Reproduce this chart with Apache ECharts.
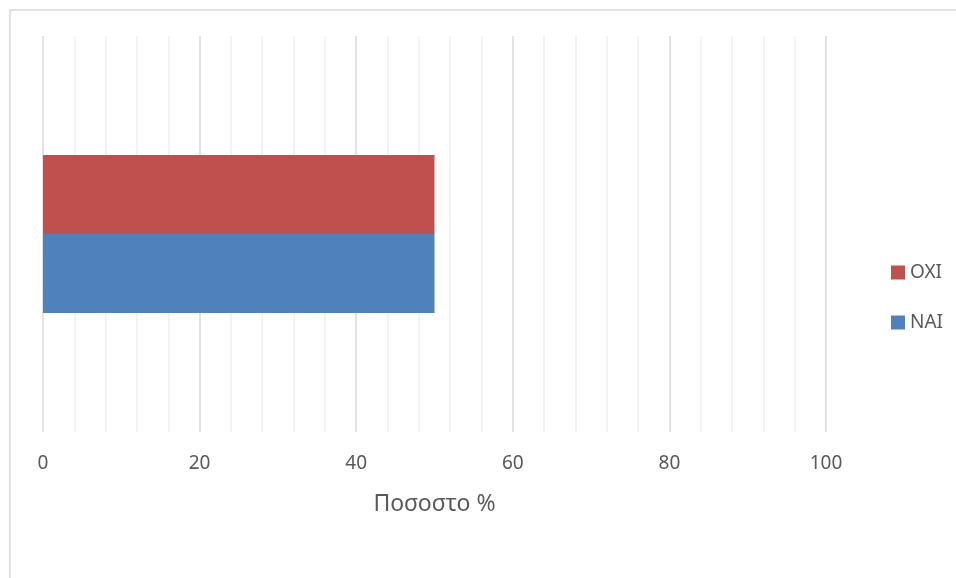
<!DOCTYPE html>
<html>
<head>
<meta charset="utf-8">
<script src="https://cdn.jsdelivr.net/npm/echarts@6/dist/echarts.min.js"></script>
<style>
  html, body { margin: 0; padding: 0; background: #fff; }
  #chart { width: 956px; height: 578px; }
</style>
</head>
<body>
<div id="chart"></div>
<script>
// Single-category horizontal bar chart: share of answers (percent)
const categories = [''];
const seriesNames = ['OXI', 'NAI'];
const oxiValues = [50];
const naiValues = [50];
const legendOrder = ['OXI', 'NAI'];
const axisName = 'Ποσοστο %';
const xMin = 0, xMax = 100, xStep = 20;

const textColor = '#595959';
const font = 'Noto Sans';

const chart = echarts.init(document.getElementById('chart'), null, { renderer: 'canvas' });

chart.setOption({
  animation: false,
  backgroundColor: '#ffffff',
  textStyle: { fontFamily: font },
  graphic: [{
    type: 'rect',
    left: 7.5, top: 7.5,
    shape: { width: 1000, height: 1000 },
    style: { fill: 'none', stroke: '#d9d9d9', lineWidth: 1.5 },
    silent: true, z: -1
  }],
  grid: { left: 43, right: 130, top: 36, bottom: 146, containLabel: false },
  legend: {
    data: legendOrder,
    orient: 'vertical',
    left: 886, top: 258,
    itemWidth: 14, itemHeight: 14, itemGap: 31,
    icon: 'rect',
    textStyle: { color: textColor, fontSize: 19, fontFamily: font },
    itemStyle: { borderWidth: 0 }
  },
  xAxis: {
    type: 'value',
    min: xMin, max: xMax, interval: xStep,
    name: axisName,
    nameLocation: 'middle',
    nameGap: 61,
    nameTextStyle: { color: textColor, fontSize: 23, fontFamily: font },
    axisLine: { show: false },
    axisTick: { show: false },
    axisLabel: { color: textColor, fontSize: 19, fontFamily: font, margin: 22 },
    splitLine: { show: true, lineStyle: { color: '#d9d9d9', width: 1.5 } },
    minorTick: { show: false, splitNumber: 5 },
    minorSplitLine: { show: true, lineStyle: { color: '#f0f0f0', width: 1.5 } }
  },
  yAxis: {
    type: 'category',
    data: categories,
    axisLine: { show: false },
    axisTick: { show: false },
    axisLabel: { show: false },
    splitLine: { show: false }
  },
  series: [
    {
      name: seriesNames[0], type: 'bar', data: oxiValues,
      barWidth: 79, barGap: '0%',
      itemStyle: { color: '#c0504d' }
    },
    {
      name: seriesNames[1], type: 'bar', data: naiValues,
      barWidth: 79, barGap: '0%',
      itemStyle: { color: '#4f81bd' }
    }
  ]
});
</script>
</body>
</html>
